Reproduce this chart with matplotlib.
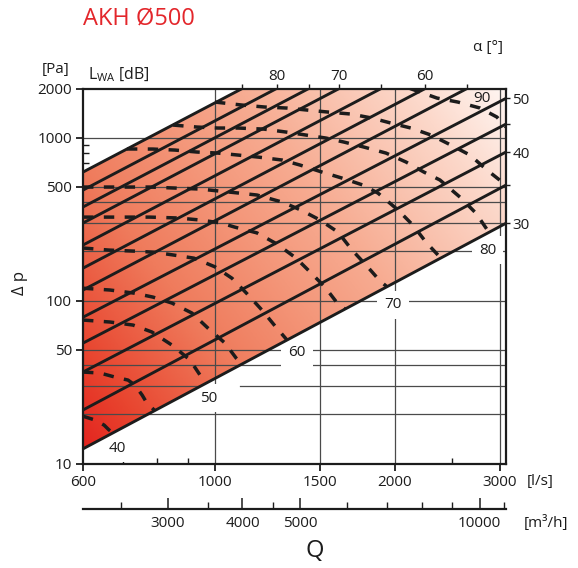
import numpy as np
import matplotlib.pyplot as plt
from matplotlib.colors import LinearSegmentedColormap
from matplotlib.patches import Polygon
from matplotlib.ticker import NullFormatter, NullLocator

plt.rcParams['font.family'] = ['Open Sans', 'DejaVu Sans']
plt.rcParams['mathtext.fontset'] = 'custom'
plt.rcParams['mathtext.rm'] = 'Open Sans'

W_PX, H_PX = 578, 568

# axis ranges
q_min, q_max = 600, 3076      # [l/s]
dp_min, dp_max = 10, 2000     # [Pa]

# damper blade angle lines (alpha [deg]), dp at q_min and at q_max
alpha = [30, 35, 40, 45, 50, 55, 60, 65, 70, 75, 80, 85]
dp_left = [12.3, 21.3, 36.4, 54.8, 79, 116, 158, 219, 299, 375, 476, 614]
dp_right = [298, 511, 815, 1210, 1740, 2670, 3640, 5050, 6890, 8630, 10960, 14130]

# sound power lines L_WA [dB]
q_db40 = [600, 628, 651, 663, 674]
dp_db40 = [19.5, 18.5, 17.2, 16.1, 15.4]
q_db45 = [600, 641, 679, 714, 733, 754, 768, 792]
dp_db45 = [36.4, 35.9, 33.9, 32.5, 30.3, 26.3, 23.5, 21.1]
q_db50 = [600, 666, 728, 783, 846, 907, 943, 965]
dp_db50 = [75.9, 73.8, 70.7, 64.1, 53.3, 43.2, 34.9, 31.1]
q_db55 = [600, 666, 731, 786, 846, 914, 972, 1038, 1084, 1109]
dp_db55 = [119, 116, 111, 105, 96.5, 83.8, 67.8, 54.9, 44.4, 40.7]
q_db60 = [600, 663, 731, 789, 853, 921, 999, 1067, 1131, 1198, 1260, 1320]
dp_db60 = [210, 204, 201, 198, 190, 182, 161, 137, 110, 87.4, 69.8, 57.2]
q_db65 = [600, 777, 866, 943, 1023, 1079, 1175, 1270, 1367, 1442, 1528, 1607, 1652]
dp_db65 = [325, 325, 321, 312, 299, 282, 260, 222, 182, 150, 121, 95.2, 88.6]
q_db70 = [600, 777, 943, 1092, 1175, 1295, 1393, 1499, 1607, 1697, 1791, 1890, 1942]
dp_db70 = [497, 497, 483, 457, 444, 402, 359, 312, 263, 204, 165, 132, 121.5]
q_db75 = [711, 786, 856, 932, 1011, 1092, 1180, 1295, 1388, 1511, 1632, 1770, 1876,
          2027, 2147, 2258, 2392]
dp_db75 = [851, 850, 838, 815, 803, 781, 759, 728, 678, 614, 564, 511, 456,
           359, 290, 228, 182]
q_db80 = [850, 932, 1011, 1092, 1207, 1315, 1420, 1534, 1645, 1777, 1935, 2090, 2240,
          2383, 2575, 2738, 2880]
dp_db80 = [1193, 1160, 1144, 1144, 1127, 1081, 1036, 993, 938, 874, 803, 708, 614,
           549, 431, 344, 262]
q_db85 = [999, 1109, 1212, 1320, 1426, 1546, 1690, 1833, 1972, 2130, 2302, 2487, 2676,
          2858, 3076]
dp_db85 = [1651, 1583, 1539, 1517, 1475, 1434, 1394, 1317, 1227, 1144, 1036, 899, 781,
           632, 511]
q_db90 = [2123, 2356, 2555, 2783, 2970, 3076]
dp_db90 = [2000, 1747, 1651, 1517, 1336, 1160]

# axes ticks
q_ticks = [600, 1000, 1500, 2000, 3000]
q_minor = [700, 800, 900, 2500]
q_grid = [1000, 1500, 2000, 3000]
dp_ticks = [10, 50, 100, 500, 1000, 2000]
dp_minor = [60, 70, 80, 90, 600, 700, 800, 900]
dp_grid = [20, 30, 40, 50, 100, 200, 300, 400, 500, 1000]
m3h_ticks = [3000, 4000, 5000, 10000]
m3h_minor = [2500, 3500, 4500, 6000, 7000, 8000, 9000, 11000]

ink = '#1c1c1c'
grid_col = '#4a4a4a'


def fx(x):
    return x / W_PX


def fy(y):
    return 1 - y / H_PX


fig = plt.figure(figsize=(W_PX / 100, H_PX / 100), dpi=100)
ax = fig.add_axes([fx(83), fy(463.5), 423 / W_PX, 375 / H_PX])
ax.set_xscale('log')
ax.set_yscale('log')

### colour band ###
band_cmap = LinearSegmentedColormap.from_list('band', [
    (0.0, '#e3201d'), (0.12, '#e8452f'), (0.31, '#ef7b5c'), (0.48, '#f4977a'),
    (0.62, '#f7ac92'), (0.86, '#fcd8ca'), (1.0, '#fff6f2')])
uu, vv = np.meshgrid(np.linspace(0, 1, 300), np.linspace(0, 1, 300))
img = ax.imshow(0.6 * uu + 0.4 * vv, cmap=band_cmap, extent=[0, 1, 0, 1],
                transform=ax.transAxes, origin='lower', aspect='auto',
                interpolation='bilinear', zorder=3)
ax.set_autoscale_on(False)
ax.set_xlim(q_min, q_max)
ax.set_ylim(dp_min, dp_max)
band = Polygon([(q_min, dp_left[0]), (q_max, dp_right[0]),
                (q_max, dp_right[-1]), (q_min, dp_left[-1])],
               closed=True, transform=ax.transData)
img.set_clip_path(band)

### grid: below the label boxes, and again on top of the band ###
for q in q_grid:
    ax.axvline(q, color=grid_col, lw=0.9, zorder=2)
    ax.axvline(q, color=grid_col, lw=0.9, zorder=3.5).set_clip_path(band)
for p in dp_grid:
    if p == 30:
        ax.axhline(p, xmax=(190 - 83) / 423, color=grid_col, lw=0.9, zorder=2)
        ax.axhline(p, xmin=(240 - 83) / 423, color=grid_col, lw=0.9, zorder=2)
    else:
        ax.axhline(p, color=grid_col, lw=0.9, zorder=2)
    ax.axhline(p, color=grid_col, lw=0.9, zorder=3.5).set_clip_path(band)

### lines ###
for dl, dr in zip(dp_left, dp_right):
    ax.plot([q_min, q_max], [dl, dr], color=ink, lw=2.1, zorder=4,
            solid_capstyle='butt')

dashed = [(q_db40, dp_db40), (q_db45, dp_db45), (q_db50, dp_db50),
          (q_db55, dp_db55), (q_db60, dp_db60), (q_db65, dp_db65),
          (q_db70, dp_db70), (q_db75, dp_db75), (q_db80, dp_db80),
          (q_db85, dp_db85), (q_db90, dp_db90)]
for q, p in dashed:
    ax.plot(q, p, color=ink, lw=2.5, ls=(0, (3.0, 3.0)), zorder=4)

# dB labels (white box hides the grid, the band is drawn over it)
box = dict(boxstyle='square,pad=0.45', fc='white', ec='none')
for txt, x, y in [('40', 117, 448), ('50', 209, 398), ('60', 297, 353),
                  ('70', 393, 305), ('80', 488, 250)]:
    ax.text(fx(x), fy(y), txt, ha='center', va='center', fontsize=11,
            color=ink, bbox=box, zorder=2.5, transform=fig.transFigure)
fig.text(fx(482), fy(99), '90', ha='center', va='center', fontsize=11, color=ink,
         zorder=5)

### axes styling ###
for s in ax.spines.values():
    s.set_linewidth(1.6)
    s.set_color(ink)
    s.set_zorder(5)

ax.set_xticks(q_ticks, [str(q) for q in q_ticks])
ax.set_xticks(q_minor, minor=True)
ax.xaxis.set_minor_formatter(NullFormatter())
ax.set_yticks(dp_ticks, [str(p) for p in dp_ticks])
ax.set_yticks(dp_minor, minor=True)
ax.yaxis.set_minor_formatter(NullFormatter())
ax.tick_params(which='major', direction='out', length=5, width=1.3,
               color=ink, labelsize=11, labelcolor=ink, pad=3)
ax.tick_params(which='minor', direction='in', length=4, width=1.0, color=ink)

# alpha ticks where the lines leave the frame
top_q, top_lab, right_p, right_lab = [], [], [], []
for a, dl, dr in zip(alpha, dp_left, dp_right):
    n = np.log10(dr / dl) / np.log10(q_max / q_min)
    q_top = q_min * (dp_max / dl) ** (1 / n)
    if q_top < q_max:
        top_q.append(q_top)
        top_lab.append(str(a) if a % 10 == 0 else '')
    else:
        right_p.append(dr)
        right_lab.append(str(a) if a % 10 == 0 else '')

axt = ax.twiny()
axt.set_xscale('log')
axt.set_xlim(q_min, q_max)
axt.set_xticks(top_q, top_lab)
axt.xaxis.set_minor_locator(NullLocator())
axt.tick_params(direction='out', length=3, width=1.0, color=ink,
                labelsize=11, labelcolor=ink, pad=0)
for s in axt.spines.values():
    s.set_visible(False)

axr = ax.twinx()
axr.set_yscale('log')
axr.set_ylim(dp_min, dp_max)
axr.set_yticks(right_p, right_lab)
axr.yaxis.set_minor_locator(NullLocator())
axr.tick_params(direction='out', length=3, width=1.0, color=ink,
                labelsize=11, labelcolor=ink, pad=1.5)
for s in axr.spines.values():
    s.set_visible(False)

### m3/h axis ###
ax2 = fig.add_axes([fx(83), fy(509), 423 / W_PX, 0.0001])
ax2.set_xscale('log')
ax2.set_xlim(q_min * 3.6, q_max * 3.6)
for k in ['top', 'left', 'right']:
    ax2.spines[k].set_visible(False)
ax2.spines['bottom'].set_linewidth(1.6)
ax2.spines['bottom'].set_color(ink)
ax2.set_yticks([])
ax2.set_xticks(m3h_ticks, [str(v) for v in m3h_ticks])
ax2.set_xticks(m3h_minor, minor=True)
ax2.xaxis.set_minor_formatter(NullFormatter())
ax2.tick_params(which='major', direction='in', length=8, width=1.1, color=ink,
                labelsize=11, labelcolor=ink, pad=5)
ax2.tick_params(which='minor', direction='in', length=5, width=1.0, color=ink)

### texts ###
fig.text(fx(83), fy(19), 'AKH Ø500', ha='left', va='center', fontsize=17,
         color='#e3262b')
fig.text(fx(56), fy(70), '[Pa]', ha='center', va='center', fontsize=11, color=ink)
fig.text(fx(88), fy(75), r'$\mathregular{L_{WA}}$ [dB]', ha='left', va='center',
         fontsize=11.5, color=ink)
fig.text(fx(488), fy(48), 'α [°]', ha='center', va='center', fontsize=11, color=ink)
fig.text(fx(20), fy(283), 'Δ p', ha='center', va='center', fontsize=12,
         rotation=90, color=ink)
fig.text(fx(527), fy(481), '[l/s]', ha='left', va='center', fontsize=11, color=ink)
fig.text(fx(524), fy(523), '[m³/h]', ha='left', va='center', fontsize=11, color=ink)
fig.text(fx(315), fy(551), 'Q', ha='center', va='center', fontsize=17, color=ink)

fig.savefig('out.png', dpi=100)
